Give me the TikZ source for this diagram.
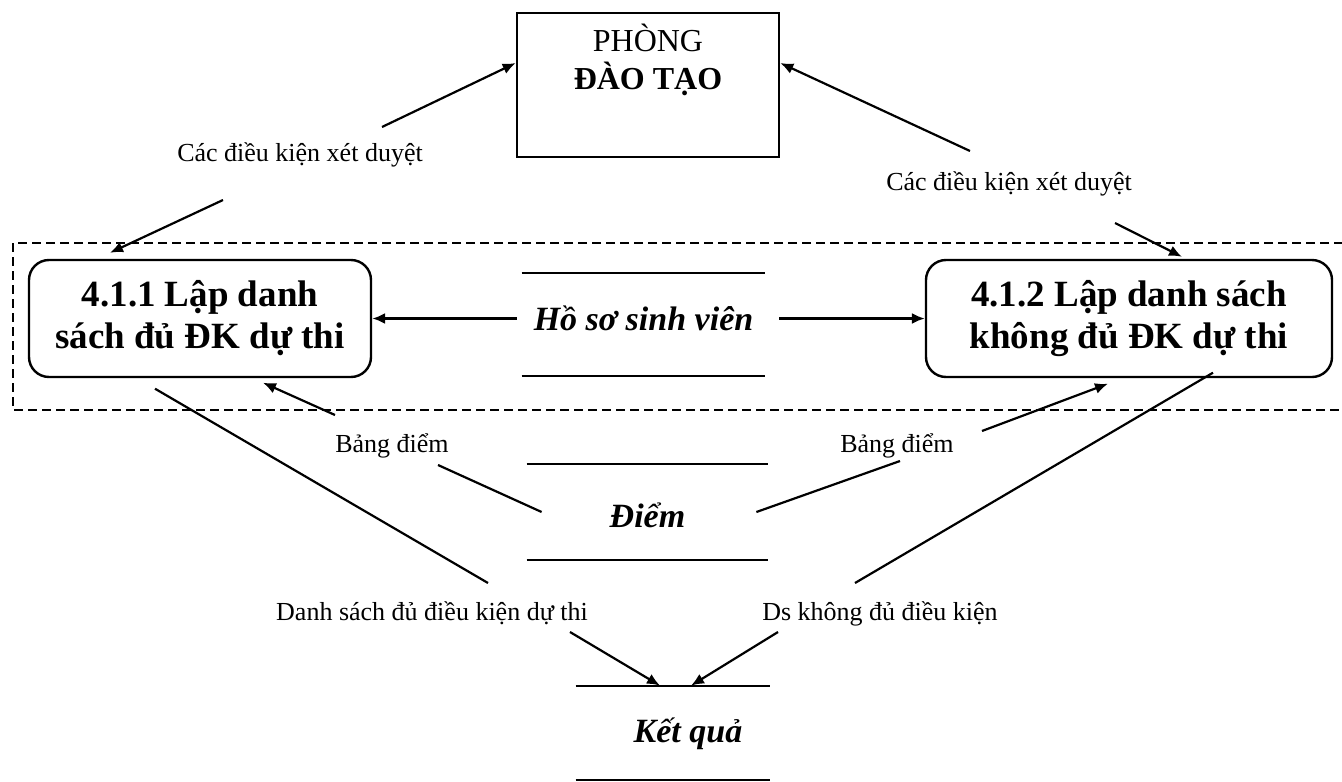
\documentclass[tikz,border=0pt]{standalone}
\usepackage{fontspec}
\setmainfont{Liberation Serif}
\usetikzlibrary{arrows.meta}

\begin{document}
\begin{tikzpicture}[x=0.5pt,y=-0.5pt,
  unit/.style={draw, line width=1.3pt, minimum width=131pt, minimum height=72pt},
  title/.style={align=center, inner sep=0pt, font=\fontsize{16}{19}\selectfont},
  proc/.style={draw, line width=1.2pt, rounded corners=10pt, minimum height=58.5pt,
    inner sep=0pt, align=center, font=\fontsize{18.5}{21}\selectfont\bfseries},
  store/.style={inner sep=0pt, append after command={
    (\tikzlastnode.north west) edge[line width=1pt] (\tikzlastnode.north east)
    (\tikzlastnode.south west) edge[line width=1pt] (\tikzlastnode.south east)}},
  storetext/.style={anchor=base, inner sep=0pt, font=\fontsize{17}{20}\selectfont\bfseries\itshape},
  lbl/.style={anchor=base, inner sep=0pt, font=\fontsize{13}{15}\selectfont},
  link/.style={line width=1.1pt},
  flow/.style={line width=1.1pt, -{Latex[length=6.5pt,width=5.5pt]}}]
\useasboundingbox (0,0) rectangle (1342,781);

%%% external unit and the two processes
\node[unit] (pdt) at (648,85) {};
\node[title, anchor=north] (pdttitle) at ([yshift=-6pt]pdt.north) {PHÒNG\\\textbf{ĐÀO TẠO}};
\draw[line width=0.8pt, dash pattern=on 4.5pt off 2.5pt] (13,243) rectangle (1372,410);
\node[proc, minimum width=171pt] (p411) at (200,318.5) {4.1.1 Lập danh\\sách đủ ĐK dự thi};
\node[proc, minimum width=203pt] (p412) at (1129,318.5) {4.1.2 Lập danh sách\\không đủ ĐK dự thi};

%%% data stores
\node[store, minimum width=121.5pt, minimum height=51.5pt] (hs) at (643.5,324.5) {};
\node[storetext] (hstext) at ([yshift=-2.75pt]hs) {Hồ sơ sinh viên};
\node[store, minimum width=120.5pt, minimum height=48pt] (dm) at (647.5,512) {};
\node[storetext] (dmtext) at ([yshift=-7.5pt]dm) {Điểm};
\node[store, minimum width=97pt, minimum height=47pt] (kq) at (673,733) {};
\node[storetext] (kqtext) at ([shift={(7.5pt,-4.5pt)}]kq) {Kết quả};

%%% flow labels
\node[lbl] (dkL) at (300,162) {Các điều kiện xét duyệt};
\node[lbl] (dkR) at (1009,190) {Các điều kiện xét duyệt};
\node[lbl] (bdL) at (392,452) {Bảng điểm};
\node[lbl] (bdR) at (897,452) {Bảng điểm};
\node[lbl] (dsL) at (432,620) {Danh sách đủ điều kiện dự thi};
\node[lbl] (dsR) at (880,620) {Ds không đủ điều kiện};

%%% ends of the broken flows around their labels
\coordinate (dkL1) at (382,127);
\coordinate (dkL2) at (223,200);
\coordinate (dkR1) at (970,151);
\coordinate (dkR2) at (1115,223);
\coordinate (bdL1) at (438,465);
\coordinate (bdL2) at (335,415);
\coordinate (bdR1) at (900,461);
\coordinate (bdR2) at (982,431);
\coordinate (dsL1) at (488,583);
\coordinate (dsL2) at (570,632);
\coordinate (dsR1) at (855,583);
\coordinate (dsR2) at (778,632);
\coordinate (hsL) at ([xshift=-2.5pt]hs.west);
\coordinate (hsR) at ([xshift=7pt]hs.east);

%%% flows
\draw[flow] (dkL1) -- ([yshift=11pt]pdt.west);
\draw[flow] (dkL2) -- ([shift={(-45pt,3pt)}]p411.north);
\draw[flow] (dkR1) -- ([yshift=11pt]pdt.east);
\draw[flow] (dkR2) -- ([shift={(26.5pt,1pt)}]p412.north);

\draw[flow] (p411.east -| hsL) -- (p411.east);
\draw[flow] (p412.west -| hsR) -- (p412.west);

\draw[link] ([xshift=7.5pt]dm.west) -- (bdL1);
\draw[flow] (bdL2) -- ([shift={(31.5pt,-2.25pt)}]p411.south);
\draw[link] ([xshift=-6pt]dm.east) -- (bdR1);
\draw[flow] (bdR2) -- ([shift={(-10.5pt,-2.75pt)}]p412.south);

\draw[link] ([shift={(-22.5pt,-5.25pt)}]p411.south) -- (dsL1);
\draw[flow] (dsL2) -- ([xshift=-6.5pt]kq.north);
\draw[link] ([shift={(42pt,2.75pt)}]p412.south) -- (dsR1);
\draw[flow] (dsR2) -- ([xshift=9pt]kq.north);
\end{tikzpicture}
\end{document}
